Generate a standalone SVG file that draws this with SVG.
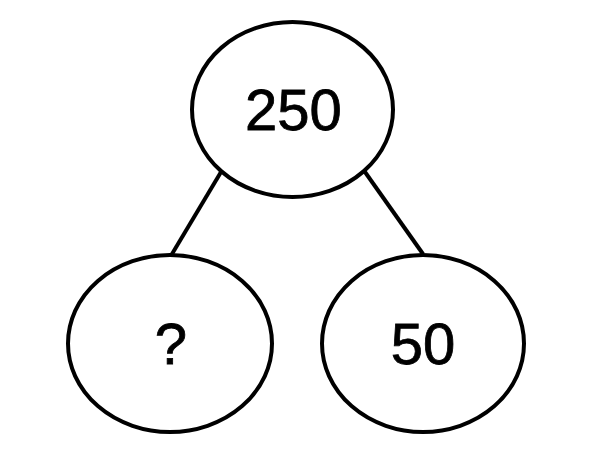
<svg xmlns="http://www.w3.org/2000/svg" width="592" height="468" viewBox="0 0 592 468">
<style>
.node{fill:#fff;stroke:#000;stroke-width:4}
.lbl{font-family:"Liberation Sans",Arial,sans-serif;font-size:58px;fill:#000;stroke:#000;stroke-width:0.8;text-anchor:middle}
.edge{stroke:#000;stroke-width:4;fill:none}
</style>
<rect width="592" height="468" fill="#fff"/>
<g id="connectors">
<line class="edge" x1="221" y1="172" x2="172" y2="254"/>
<line class="edge" x1="365" y1="172" x2="423" y2="254"/>
</g>
<g id="node-top">
<ellipse class="node" cx="292.5" cy="109.5" rx="100.5" ry="87.5"/>
<text class="lbl" x="293.5" y="130">250</text>
</g>
<g id="node-left">
<ellipse class="node" cx="170" cy="343.5" rx="102" ry="88.5"/>
<text class="lbl" x="171" y="364">?</text>
</g>
<g id="node-right">
<ellipse class="node" cx="423" cy="343.5" rx="101" ry="88.5"/>
<text class="lbl" x="423" y="364">50</text>
</g>
</svg>
